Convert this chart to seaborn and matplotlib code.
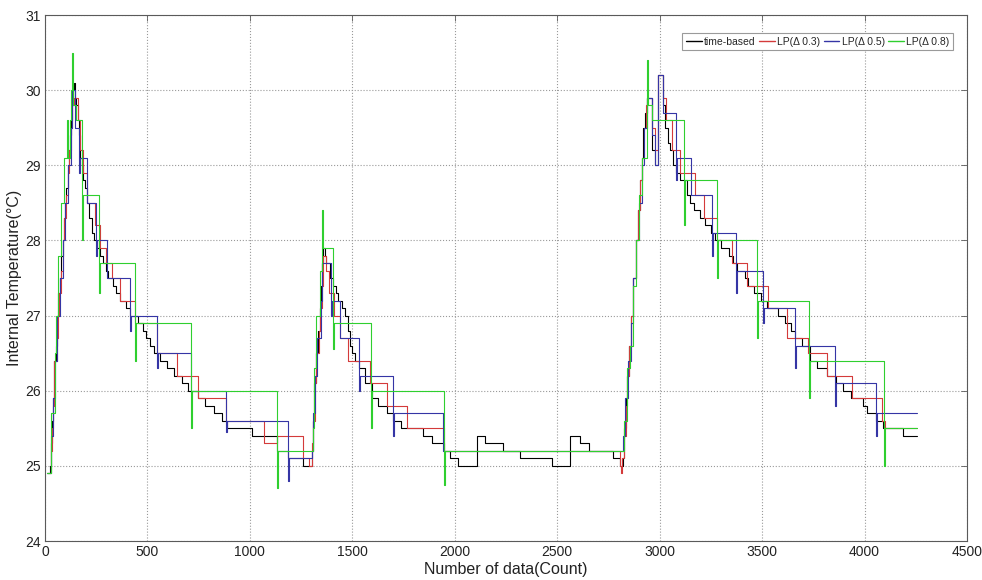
import numpy as np
import pandas as pd
import matplotlib
matplotlib.use("Agg")
import matplotlib.pyplot as plt
import seaborn as sns

# time-based samples (step breakpoints: count, temperature)
time_x = [10, 25, 30, 35, 40, 45, 55, 60, 66, 73, 80, 86, 92, 98, 104, 110, 114, 119, 124, 128,
          133, 137, 141, 146, 151, 160, 166, 171, 180, 188, 196, 206, 215, 228, 240, 252, 270, 285,
          300, 308, 330, 345, 366, 395, 415, 453, 478, 495, 512, 530, 563, 596, 629, 667, 696, 748,
          781, 826, 863, 889, 1010, 1131, 1188, 1261,
          1302, 1308, 1314, 1322, 1332, 1342, 1348, 1353, 1358, 1366, 1374, 1391, 1407, 1420, 1431,
          1448, 1465, 1478, 1488, 1500, 1515, 1534, 1560, 1594, 1627, 1667, 1700, 1740, 1846, 1887,
          1947, 1976, 2015, 2108, 2150, 2235, 2318, 2474, 2562, 2611, 2655, 2772, 2806,
          2822, 2828, 2835, 2842, 2850, 2860, 2871, 2884, 2894, 2904, 2912, 2920, 2930, 2937, 2962,
          2977, 2992, 3016, 3025, 3040, 3050, 3065, 3080, 3100, 3135, 3150, 3170, 3195, 3220, 3250,
          3270, 3300, 3340, 3360, 3380, 3415, 3430, 3460, 3495, 3525, 3577, 3610, 3640, 3660, 3693,
          3733, 3766, 3815, 3863, 3895, 3936, 3994, 4014, 4058, 4090, 4188, 4254]
time_y = [24.9, 25.0, 25.3, 25.6, 25.9, 26.4, 26.6, 27.0, 27.3, 27.5, 27.8, 28.0, 28.3, 28.5, 28.7,
          28.9, 29.0, 29.2, 29.4, 29.6, 29.8, 30.0, 30.1, 29.9, 29.8, 29.6, 29.4, 29.1, 29.0, 28.8,
          28.7, 28.5, 28.3, 28.1, 28.0, 27.9, 27.8, 27.7, 27.6, 27.5, 27.4, 27.3, 27.2, 27.1, 27.0,
          26.9, 26.8, 26.7, 26.6, 26.5, 26.4, 26.3, 26.2, 26.1, 26.0, 25.9, 25.8, 25.7, 25.6, 25.5,
          25.4, 25.2, 25.1, 25.0,
          25.2, 25.6, 26.1, 26.5, 26.8, 27.1, 27.4, 27.7, 27.9, 27.8, 27.7, 27.5, 27.4, 27.3, 27.2,
          27.1, 27.0, 26.8, 26.6, 26.5, 26.4, 26.3, 26.1, 25.9, 25.8, 25.7, 25.6, 25.5, 25.4, 25.3,
          25.2, 25.1, 25.0, 25.4, 25.3, 25.2, 25.1, 25.0, 25.4, 25.3, 25.2, 25.1, 25.0,
          25.1, 25.5, 25.9, 26.2, 26.6, 27.0, 27.5, 28.0, 28.4, 28.8, 29.1, 29.5, 29.7, 29.9, 29.2,
          29.0, 30.2, 29.8, 29.5, 29.3, 29.2, 29.0, 28.9, 28.8, 28.6, 28.5, 28.4, 28.3, 28.2, 28.1,
          28.0, 27.9, 27.8, 27.7, 27.6, 27.5, 27.4, 27.3, 27.2, 27.1, 27.0, 26.9, 26.8, 26.7, 26.6,
          26.4, 26.3, 26.2, 26.1, 26.0, 25.9, 25.8, 25.7, 25.6, 25.5, 25.4, 25.4]

# LP(delta 0.3)
lp3_x = [10, 28, 34, 40, 46, 58, 62, 70, 78, 86, 94, 102, 110, 117, 125, 132, 141, 161, 171, 186,
         206, 244, 270, 300, 325, 366, 439, 548, 643, 748, 884, 1069, 1131, 1259, 1290,
         1302, 1310, 1316, 1325, 1335, 1344, 1350, 1358, 1372, 1385, 1410, 1440, 1480, 1586, 1667,
         1768, 1947, 2806, 2812, 2818,
         2826, 2834, 2842, 2852, 2862, 2872, 2885, 2895, 2905, 2913, 2922, 2932, 2940, 2962, 2975,
         2992, 3016, 3030, 3058, 3099, 3172, 3216, 3278, 3351, 3424, 3530, 3620, 3723, 3816, 3938,
         4085, 4100, 4254]
lp3_y = [24.9, 25.2, 25.5, 25.8, 26.4, 26.7, 27.0, 27.3, 27.6, 28.0, 28.3, 28.6, 28.9, 29.2, 29.5,
         29.8, 29.9, 29.6, 29.2, 28.9, 28.5, 28.2, 27.9, 27.7, 27.5, 27.2, 26.9, 26.5, 26.2, 25.9,
         25.6, 25.3, 25.4, 25.1, 25.0,
         25.3, 25.6, 26.1, 26.5, 26.8, 27.1, 27.4, 27.8, 27.6, 27.3, 27.0, 26.7, 26.4, 26.1, 25.8,
         25.5, 25.2, 25.0, 24.9, 25.1,
         25.4, 25.8, 26.2, 26.6, 27.0, 27.5, 28.0, 28.4, 28.8, 29.1, 29.5, 29.8, 29.9, 29.5, 29.2,
         30.2, 29.9, 29.6, 29.2, 28.9, 28.6, 28.3, 28.0, 27.7, 27.4, 27.1, 26.7, 26.5, 26.2, 25.9,
         25.6, 25.5, 25.5]

# LP(delta 0.5)
lp5_x = [10, 30, 40, 48, 60, 72, 86, 98, 112, 125, 134, 146, 166, 171, 206, 249, 253, 303, 415,
         420, 548, 553, 712, 884, 889, 1188, 1193,
         1302, 1310, 1318, 1330, 1345, 1352, 1394, 1399, 1440, 1534, 1539, 1697, 1702, 1944,
         2822, 2832, 2845, 2860, 2872, 2885, 2900, 2912, 2925, 2937, 2962, 2977, 2992, 3016, 3080,
         3085, 3151, 3254, 3259, 3372, 3377, 3503, 3508, 3660, 3665, 3855, 3860, 4055, 4060, 4254]
lp5_y = [24.9, 25.4, 25.9, 26.4, 27.0, 27.5, 28.0, 28.5, 29.0, 29.5, 30.0, 29.5, 28.9, 29.1, 28.5,
         27.8, 28.0, 27.5, 26.8, 27.0, 26.3, 26.5, 26.0, 25.45, 25.6, 24.8, 25.1,
         25.2, 25.7, 26.2, 26.7, 27.2, 27.7, 27.0, 27.2, 26.7, 26.0, 26.2, 25.4, 25.7, 25.2,
         25.4, 25.9, 26.4, 26.9, 27.5, 28.0, 28.5, 29.0, 29.5, 29.9, 29.4, 29.0, 30.2, 29.7, 28.8,
         29.1, 28.6, 27.8, 28.1, 27.3, 27.6, 26.9, 27.1, 26.3, 26.6, 25.8, 26.1, 25.4, 25.7, 25.7]

# LP(delta 0.8)
lp8_x = [10, 30, 48, 55, 62, 80, 95, 108, 114, 120, 128, 134, 139, 151, 181, 186, 263, 268, 439,
         444, 712, 717, 1131, 1136,
         1306, 1314, 1325, 1340, 1352, 1357, 1406, 1411, 1589, 1594, 1947, 1952,
         2825, 2840, 2855, 2871, 2884, 2900, 2912, 2936, 2944, 2961, 3119, 3124, 3278, 3283, 3477,
         3482, 3730, 3735, 4094, 4099, 4254]
lp8_y = [24.9, 25.7, 26.5, 27.0, 27.8, 28.5, 29.1, 29.6, 29.1, 29.6, 30.0, 30.5, 29.8, 29.6, 28.0,
         28.6, 27.3, 27.7, 26.4, 26.9, 25.5, 26.0, 24.7, 25.2,
         25.5, 26.3, 27.0, 27.6, 28.4, 27.9, 26.55, 26.9, 25.5, 26.0, 24.75, 25.2,
         25.6, 26.3, 26.6, 27.4, 28.0, 28.6, 29.1, 30.4, 29.8, 29.6, 28.2, 28.8, 27.5, 28.0, 26.7,
         27.2, 25.9, 26.4, 25.0, 25.5, 25.5]

series = [
    ("time-based", time_x, time_y, "#000000"),
    ("LP(\u0394 0.3)", lp3_x, lp3_y, "#d43a3a"),
    ("LP(\u0394 0.5)", lp5_x, lp5_y, "#3535a5"),
    ("LP(\u0394 0.8)", lp8_x, lp8_y, "#2fcf2f"),
]

sns.set_theme(style="white")
plt.rcParams["font.family"] = ["Liberation Sans", "DejaVu Sans"]

fig = plt.figure(figsize=(9.82, 5.8), dpi=100)
ax = fig.add_axes([0.0458, 0.0672, 0.9389, 0.9068])

for name, xs, ys, col in series:
    df = pd.DataFrame({"count": xs, "temp": ys})
    sns.lineplot(data=df, x="count", y="temp", ax=ax, estimator=None, sort=False,
                 drawstyle="steps-post", color=col, lw=0.8, label=name)

ax.set_xlim(0, 4500)
ax.set_ylim(24, 31)
ax.set_xticks(np.arange(0, 4501, 500))
ax.set_yticks(np.arange(24, 32, 1))
ax.grid(True, linestyle=":", color="#9a9a9a", lw=0.8)
for s in ax.spines.values():
    s.set_color("#5a5a5a")
    s.set_linewidth(0.8)
ax.tick_params(direction="in", length=4, width=0.6, color="#5a5a5a", top=True, right=True,
               labelsize=10, pad=3, labelcolor="#222222")
ax.set_xlabel("Number of data(Count)", fontsize=11.5, color="#222222", labelpad=2)
ax.set_ylabel("Internal Temperature(\u00b0C)", fontsize=11.5, color="#222222", labelpad=2)

leg = ax.legend(loc="upper right", bbox_to_anchor=(0.985, 0.966), borderaxespad=0, ncol=4,
                frameon=True, fancybox=False, framealpha=1, edgecolor="#9a9a9a", borderpad=0.35,
                handlelength=1.5, handletextpad=0.25, columnspacing=0.3,
                prop={"size": 7.5})
leg.get_frame().set_linewidth(0.8)
for h, (_, _, _, col) in zip(leg.get_lines(), series):
    h.set_color(col)
    h.set_linewidth(1.0)

fig.savefig("out.png", dpi=100)
